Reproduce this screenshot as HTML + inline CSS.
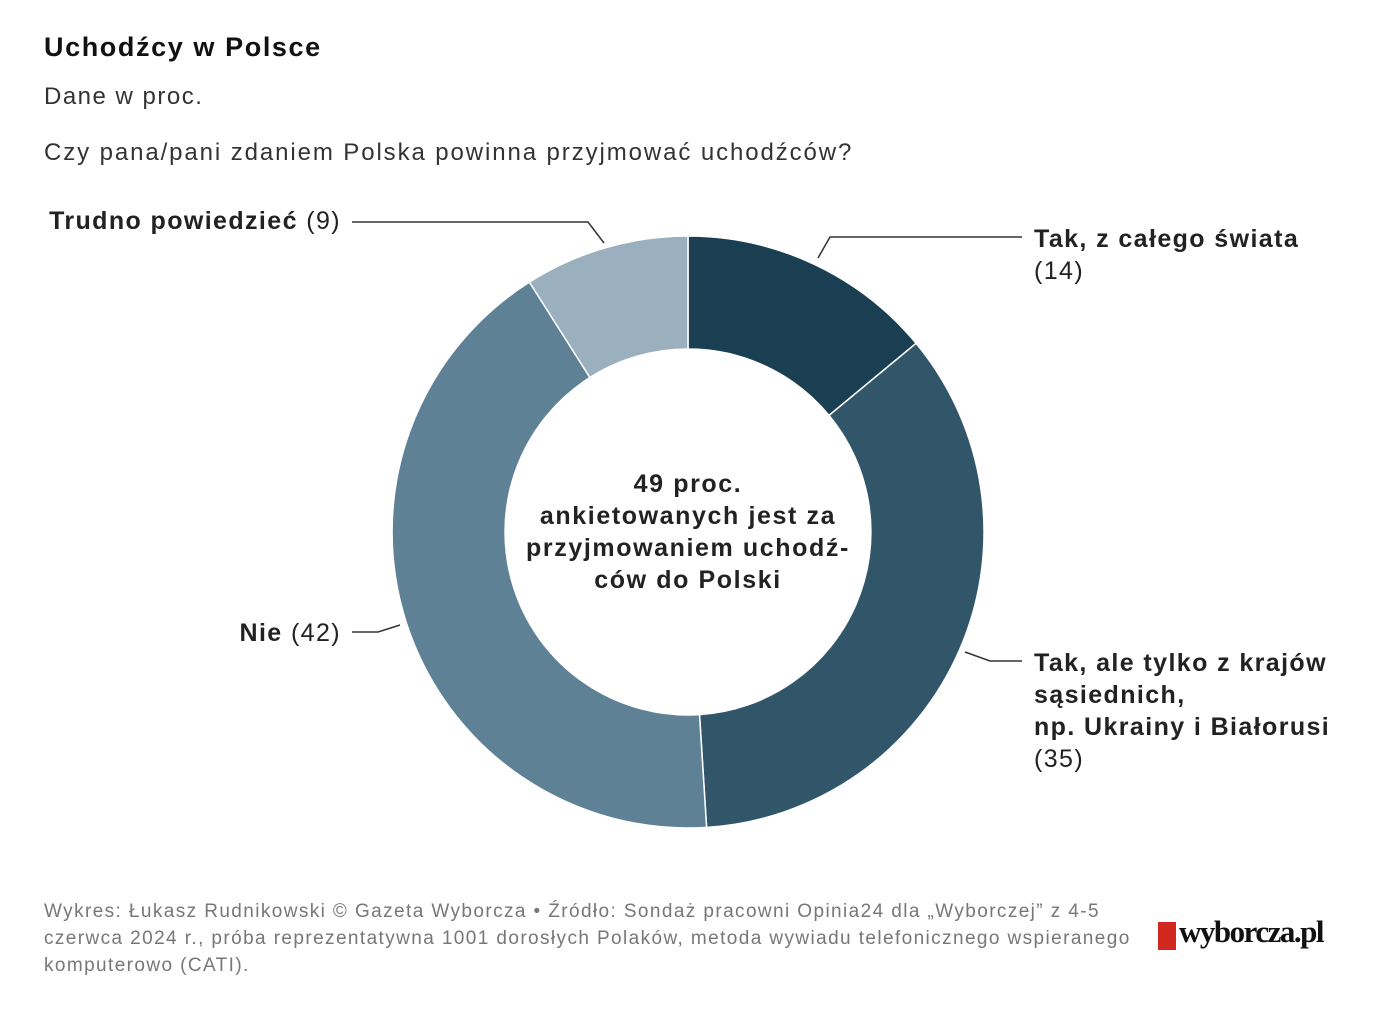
<!DOCTYPE html>
<html><head><meta charset="utf-8"><style>
body{margin:0;width:1400px;height:1026px;background:#fff;font-family:"Liberation Sans",Arial,sans-serif;color:#222;position:relative;overflow:hidden}
.a{position:absolute;white-space:nowrap}
</style></head><body>
<div class="a" style="left:44px;top:32px;font-size:27px;font-weight:bold;color:#111;letter-spacing:1.6px">Uchodźcy w Polsce</div>
<div class="a" style="left:44px;top:83px;font-size:24px;color:#333;letter-spacing:1.5px">Dane w proc.</div>
<div class="a" style="left:44px;top:139px;font-size:24px;color:#333;letter-spacing:1.9px">Czy pana/pani zdaniem Polska powinna przyjmować uchodźców?</div>
<svg class="a" style="left:0;top:0" width="1400" height="1026">
<g stroke="#fff" stroke-width="1.5">
<path d="M688,236 A296,296 0 0 1 916.1,343.3 L829,415.4 A183,183 0 0 0 688,349Z" fill="#1b3f52"/>
<path d="M916.1,343.3 A296,296 0 0 1 706.6,827.4 L699.5,714.6 A183,183 0 0 0 829,415.4Z" fill="#31566a"/>
<path d="M706.6,827.4 A296,296 0 0 1 529.4,282.1 L589.9,377.5 A183,183 0 0 0 699.5,714.6Z" fill="#5e8196"/>
<path d="M529.4,282.1 A296,296 0 0 1 688,236 L688,349 A183,183 0 0 0 589.9,377.5Z" fill="#9ab0bf"/>
</g>
<g stroke="#333" stroke-width="1.5" fill="none">
<polyline points="352,222 588,222 604,243"/>
<polyline points="818,258 830,237 1022,237"/>
<polyline points="352,632 378,632 400,625"/>
<polyline points="965,652 990,661 1022,661"/>
</g>
</svg>
<div class="a" style="right:1059px;top:207px;font-size:25px;letter-spacing:1.4px"><b>Trudno powiedzieć</b> (9)</div>
<div class="a" style="left:1034px;top:223px;font-size:25px;line-height:32px;letter-spacing:1.4px"><b>Tak, z całego świata</b><br>(14)</div>
<div class="a" style="right:1059px;top:619px;font-size:25px;letter-spacing:1.4px"><b>Nie</b> (42)</div>
<div class="a" style="left:1034px;top:647px;font-size:25px;line-height:32px;letter-spacing:1.4px"><b>Tak, ale tylko z krajów<br>sąsiednich,<br>np. Ukrainy i Białorusi</b><br>(35)</div>
<div class="a" style="left:438px;top:468px;width:500px;text-align:center;font-size:25px;font-weight:bold;line-height:32px;color:#222;letter-spacing:1.6px">49 proc.<br>ankietowanych jest za<br>przyjmowaniem uchodź-<br>ców do Polski</div>
<div class="a" style="left:44px;top:898px;font-size:19px;line-height:27px;color:#777;letter-spacing:1.4px">Wykres: Łukasz Rudnikowski © Gazeta Wyborcza • Źródło: Sondaż pracowni Opinia24 dla „Wyborczej” z 4-5<br>czerwca 2024 r., próba reprezentatywna 1001 dorosłych Polaków, metoda wywiadu telefonicznego wspieranego<br>komputerowo (CATI).</div>
<div class="a" style="left:1158px;top:922px;width:18px;height:28px;background:#d0281e"></div>
<div class="a" style="left:1179px;top:914px;font-family:'Liberation Serif',serif;font-weight:bold;font-size:31px;letter-spacing:-1.5px;color:#111">wyborcza.pl</div>
</body></html>
